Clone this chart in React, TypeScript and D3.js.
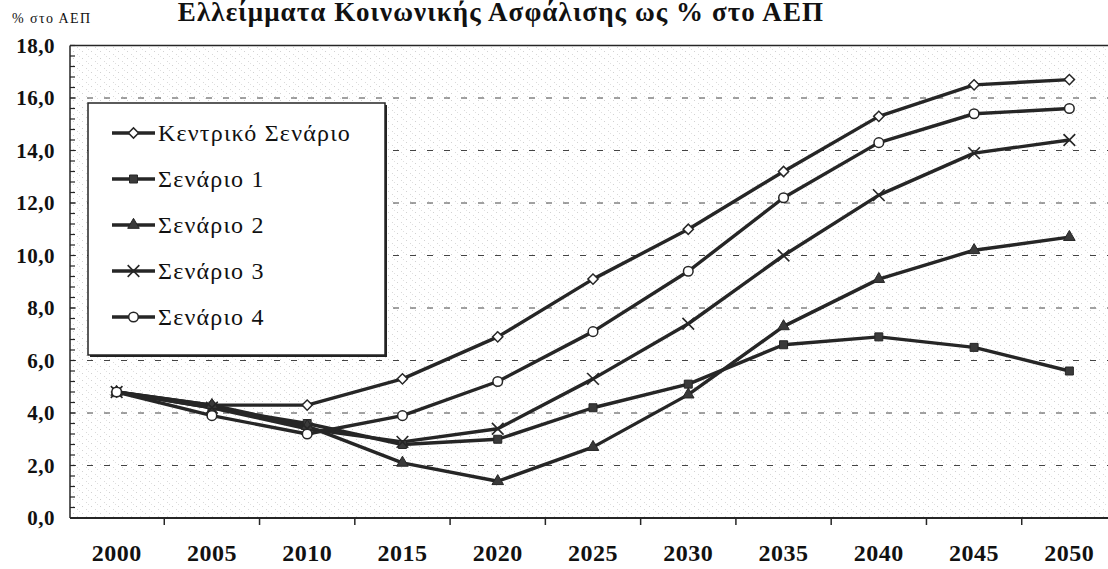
import React from 'react';
import * as d3 from 'd3';

// Chart data
const years = ['2000', '2005', '2010', '2015', '2020', '2025', '2030', '2035', '2040', '2045', '2050'];
const centralScenario = [4.8, 4.3, 4.3, 5.3, 6.9, 9.1, 11.0, 13.2, 15.3, 16.5, 16.7];
const scenario1 = [4.8, 4.2, 3.6, 2.8, 3.0, 4.2, 5.1, 6.6, 6.9, 6.5, 5.6];
const scenario2 = [4.8, 4.3, 3.5, 2.1, 1.4, 2.7, 4.7, 7.3, 9.1, 10.2, 10.7];
const scenario3 = [4.8, 4.2, 3.4, 2.9, 3.4, 5.3, 7.4, 10.0, 12.3, 13.9, 14.4];
const scenario4 = [4.8, 3.9, 3.2, 3.9, 5.2, 7.1, 9.4, 12.2, 14.3, 15.4, 15.6];
const seriesNames = ['Κεντρικό Σενάριο', 'Σενάριο 1', 'Σενάριο 2', 'Σενάριο 3', 'Σενάριο 4'];
const yTicks = [0, 2, 4, 6, 8, 10, 12, 14, 16, 18];

const title = 'Ελλείμματα Κοινωνικής Ασφάλισης ως % στο ΑΕΠ';
const yUnit = '% στο ΑΕΠ';

const WIDTH = 1108;
const HEIGHT = 569;
const INK = '#262626';
const SERIF = "'Liberation Serif', 'DejaVu Serif', serif";

type MarkerKind = 'diamond' | 'square' | 'triangle' | 'cross' | 'circle';
const markerKinds: MarkerKind[] = ['diamond', 'square', 'triangle', 'cross', 'circle'];

const Marker: React.FC<{ kind: MarkerKind; cx: number; cy: number }> = ({ kind, cx, cy }) => {
  const t = `translate(${cx},${cy})`;
  if (kind === 'diamond') {
    return (
      <path
        transform={`${t} rotate(45)`}
        d={d3.symbol(d3.symbolSquare, 52)() || ''}
        fill="#fff"
        stroke={INK}
        strokeWidth={1.5}
      />
    );
  }
  if (kind === 'square') {
    return <path transform={t} d={d3.symbol(d3.symbolSquare, 64)() || ''} fill="#3a3a3a" stroke={INK} strokeWidth={1} />;
  }
  if (kind === 'triangle') {
    return <path transform={t} d={d3.symbol(d3.symbolTriangle, 58)() || ''} fill="#3a3a3a" stroke={INK} strokeWidth={1} />;
  }
  if (kind === 'cross') {
    return <path transform={t} d={d3.symbol(d3.symbolX, 90)() || ''} fill="none" stroke={INK} strokeWidth={1.6} />;
  }
  return <circle cx={cx} cy={cy} r={4.8} fill="#fff" stroke={INK} strokeWidth={1.5} />;
};

const App: React.FC = () => {
  const series = [centralScenario, scenario1, scenario2, scenario3, scenario4];

  const plotLeft = 70;
  const plotTop = 45.5;
  const plotBottom = 518;
  const plotRight = WIDTH;

  const x = d3.scaleBand<string>().domain(years).range([69, 1117]);
  const y = d3.scaleLinear().domain([0, 18]).range([plotBottom, plotTop]);
  const cx = (yr: string) => (x(yr) ?? 0) + x.bandwidth() / 2;

  const line = d3
    .line<number>()
    .x((_, i) => cx(years[i]))
    .y((d) => y(d));

  const minorTicks = d3.range(0, 18.001, 0.4);

  // Legend layout
  const legend = { x: 88, y: 103, w: 297, h: 252, rowTop: 133, rowStep: 46 };
  const serif = { fontFamily: SERIF };

  return (
    <div style={{ position: 'absolute', left: 0, top: 0 }}>
      <svg width={WIDTH} height={HEIGHT} style={{ display: 'block', background: '#fff' }}>
        <defs>
          <pattern id="speckle" width="9" height="7" patternUnits="userSpaceOnUse">
            <rect x="1" y="2" width="1" height="1" fill="#999" />
            <rect x="5" y="5" width="1" height="1" fill="#aaa" />
            <rect x="7" y="0" width="1" height="1" fill="#bbb" />
          </pattern>
        </defs>

        {/* title, tight against the top edge */}
        <text
          x={501}
          y={21}
          textAnchor="middle"
          style={{ ...serif, letterSpacing: '1.1px' }}
          fontWeight="bold"
          fontSize={27}
          fill="#111"
        >
          {title}
        </text>
        <text x={12} y={23} style={{ ...serif, letterSpacing: '1.4px' }} fontSize={14} fill="#111">
          {yUnit}
        </text>

        {/* plot background texture */}
        <rect x={plotLeft} y={plotTop} width={plotRight - plotLeft} height={plotBottom - plotTop} fill="url(#speckle)" opacity={0.45} />

        {/* gridlines */}
        {yTicks
          .filter((t) => t > 0 && t < 18)
          .map((t) => (
            <line
              key={`g${t}`}
              x1={plotLeft}
              x2={plotRight}
              y1={y(t)}
              y2={y(t)}
              stroke="#444"
              strokeWidth={1}
              strokeDasharray="6 11"
            />
          ))}

        {/* frame: top border, left and bottom axes */}
        <line x1={plotLeft} x2={plotRight} y1={plotTop} y2={plotTop} stroke={INK} strokeWidth={1.5} />
        <line x1={plotLeft} x2={plotLeft} y1={plotTop} y2={plotBottom} stroke={INK} strokeWidth={1.5} />
        <line x1={plotLeft} x2={plotRight} y1={plotBottom} y2={plotBottom} stroke={INK} strokeWidth={2} />

        {/* y minor ticks (inside) */}
        {minorTicks.map((t, i) => (
          <line key={`m${i}`} x1={plotLeft} x2={plotLeft + 5} y1={y(t)} y2={y(t)} stroke={INK} strokeWidth={1.2} />
        ))}

        {/* y tick labels */}
        {yTicks.map((t) => (
          <text
            key={`yl${t}`}
            x={55}
            y={y(t)}
            dy="0.35em"
            textAnchor="end"
            style={{ ...serif, letterSpacing: '0.5px' }}
            fontWeight="bold"
            fontSize={21}
            fill="#111"
          >
            {t.toFixed(1).replace('.', ',')}
          </text>
        ))}

        {/* x ticks between categories */}
        {years.slice(1).map((yr) => (
          <line key={`xt${yr}`} x1={x(yr)} x2={x(yr)} y1={plotBottom} y2={plotBottom + 7} stroke={INK} strokeWidth={1.5} />
        ))}

        {/* x labels */}
        {years.map((yr) => (
          <text
            key={`xl${yr}`}
            x={cx(yr)}
            y={561}
            textAnchor="middle"
            style={{ ...serif, letterSpacing: '0.5px' }}
            fontWeight="bold"
            fontSize={24}
            fill="#111"
          >
            {yr}
          </text>
        ))}

        {/* series lines */}
        {series.map((s, i) => (
          <path key={`l${i}`} d={line(s) || ''} fill="none" stroke={INK} strokeWidth={3.4} strokeLinejoin="round" />
        ))}

        {/* series markers */}
        {series.map((s, i) =>
          s.map((v, j) => <Marker key={`p${i}-${j}`} kind={markerKinds[i]} cx={cx(years[j])} cy={y(v)} />)
        )}

        {/* legend */}
        <g>
          <rect x={legend.x + 2} y={legend.y + 2} width={legend.w} height={legend.h} fill="#222" />
          <rect x={legend.x} y={legend.y} width={legend.w} height={legend.h} fill="#fff" stroke={INK} strokeWidth={1.5} />
          {seriesNames.map((name, i) => {
            const ry = legend.rowTop + i * legend.rowStep;
            return (
              <g key={`lg${i}`}>
                <line x1={112} x2={155} y1={ry} y2={ry} stroke={INK} strokeWidth={3.4} />
                <Marker kind={markerKinds[i]} cx={133.5} cy={ry} />
                <text
                  x={158}
                  y={ry}
                  dy="0.35em"
                  style={{ ...serif, letterSpacing: '1.2px' }}
                  fontSize={24}
                  fill="#111"
                >
                  {name}
                </text>
              </g>
            );
          })}
        </g>
      </svg>
    </div>
  );
};

export default App;
